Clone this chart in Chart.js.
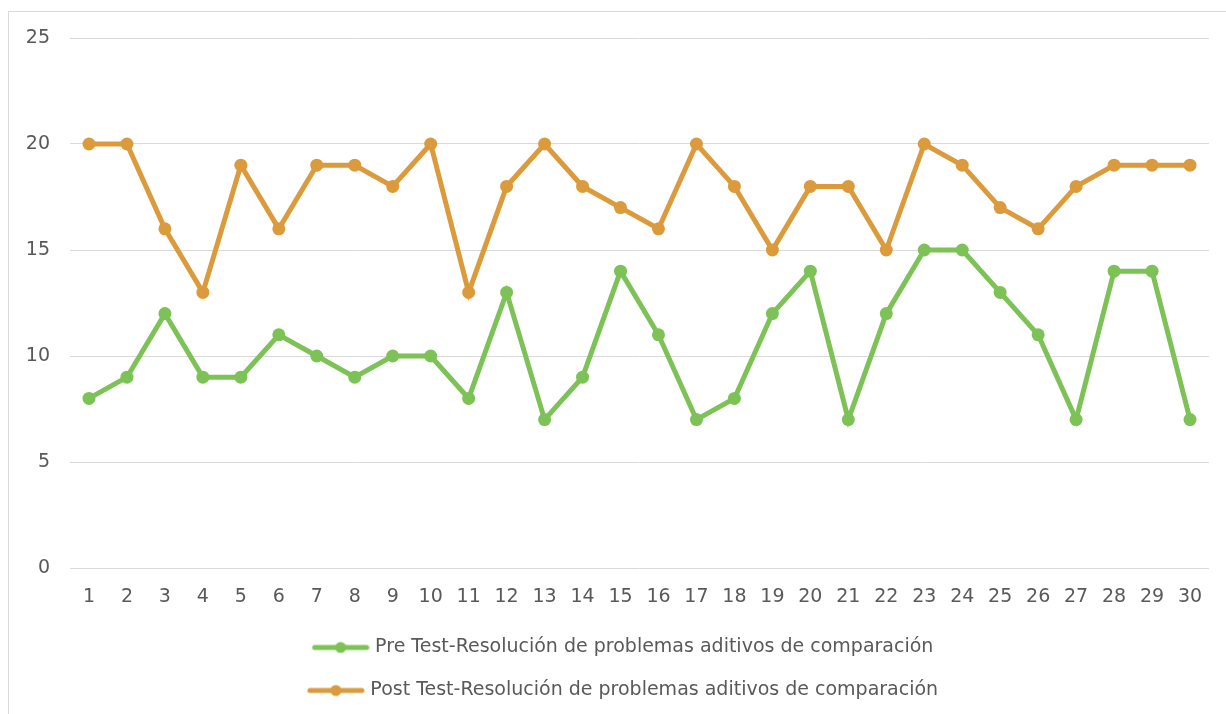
<!DOCTYPE html>
<html>
<head>
<meta charset="utf-8">
<script src="https://cdn.jsdelivr.net/npm/chart.js@4.4.1/dist/chart.umd.min.js"></script>
<style>
  html, body { margin: 0; padding: 0; background: #fff; overflow: hidden; }
  #wrap { position: relative; width: 1226px; height: 714px; }
  #marco { position: absolute; left: 8px; top: 11px; right: -10px; bottom: -10px; border: 1px solid #d9d9d9; pointer-events: none; }
</style>
</head>
<body>
<div id="wrap">
  <canvas id="grafico" width="1226" height="714"></canvas>
  <div id="marco"></div>
</div>
<script>
// datos
var estudiantes = ['1', '2', '3', '4', '5', '6', '7', '8', '9', '10', '11', '12', '13', '14', '15',
  '16', '17', '18', '19', '20', '21', '22', '23', '24', '25', '26', '27', '28', '29', '30'];

var preTest = [8, 9, 12, 9, 9, 11, 10, 9, 10, 10, 8, 13, 7, 9, 14, 11, 7, 8, 12, 14, 7, 12, 15, 15, 13, 11, 7, 14, 14, 7];
var postTest = [20, 20, 16, 13, 19, 16, 19, 19, 18, 20, 13, 18, 20, 18, 17, 16, 20, 18, 15, 18, 18, 15, 20, 19, 17, 16, 18, 19, 19, 19];

var ticksY = [0, 5, 10, 15, 20, 25];

var verde = '#7dc257';
var naranja = '#db9b3c';
var gris = '#595959';
var fuente = 'DejaVu Sans';

// simbolo de la leyenda: linea con punto
function simbolo(color) {
  var c = document.createElement('canvas');
  c.width = 58; c.height = 14;
  var x = c.getContext('2d');
  x.strokeStyle = color;
  x.lineWidth = 5;
  x.lineCap = 'round';
  x.beginPath();
  x.moveTo(3, 7);
  x.lineTo(55, 7);
  x.stroke();
  x.fillStyle = color;
  x.beginPath();
  x.arc(29, 7, 5.5, 0, Math.PI * 2);
  x.fill();
  return c;
}

// mover la leyenda un poco a la derecha
var moverLeyenda = {
  id: 'moverLeyenda',
  afterLayout: function (ch) {
    ch.legend.left += 10;
    ch.legend.right += 10;
  }
};

var ctx = document.getElementById('grafico').getContext('2d');
var chart = new Chart(ctx, {
  type: 'line',
  data: {
    labels: estudiantes,
    datasets: [{
      label: 'Pre Test-Resolución de problemas aditivos de comparación',
      data: preTest,
      borderColor: verde,
      backgroundColor: verde,
      borderWidth: 5,
      pointRadius: 6.5,
      pointBorderWidth: 0,
      pointBackgroundColor: verde
    }, {
      label: 'Post Test-Resolución de problemas aditivos de comparación',
      data: postTest,
      borderColor: naranja,
      backgroundColor: naranja,
      borderWidth: 5,
      pointRadius: 6.5,
      pointBorderWidth: 0,
      pointBackgroundColor: naranja
    }]
  },
  plugins: [moverLeyenda],
  options: {
    responsive: false,
    animation: false,
    devicePixelRatio: 1,
    layout: { padding: { left: 20, right: 17, top: 38, bottom: 4 } },
    plugins: {
      tooltip: { enabled: false },
      legend: {
        position: 'bottom',
        labels: {
          usePointStyle: true,
          pointStyleWidth: 50,
          padding: 24,
          color: gris,
          font: { family: fuente, size: 19 },
          generateLabels: function (ch) {
            return ch.data.datasets.map(function (ds, i) {
              return {
                text: ds.label,
                pointStyle: simbolo(ds.borderColor),
                fillStyle: ds.borderColor,
                strokeStyle: ds.borderColor,
                lineWidth: 0,
                fontColor: gris,
                datasetIndex: i,
                hidden: false
              };
            });
          }
        }
      }
    },
    scales: {
      x: {
        offset: true,
        grid: { display: false, offset: true },
        border: { display: false },
        ticks: { color: gris, font: { family: fuente, size: 19 }, padding: 10, maxRotation: 0, autoSkip: false },
        afterFit: function (s) { s.height = 46; }
      },
      y: {
        min: 0,
        max: 25,
        afterBuildTicks: function (s) { s.ticks = ticksY.map(function (v) { return { value: v }; }); },
        grid: { color: '#d9d9d9', lineWidth: 1, drawTicks: false },
        border: { display: false },
        ticks: { color: gris, font: { family: fuente, size: 19 }, padding: 20 },
        afterFit: function (s) { s.width = 50; }
      }
    }
  }
});
</script>
</body>
</html>
